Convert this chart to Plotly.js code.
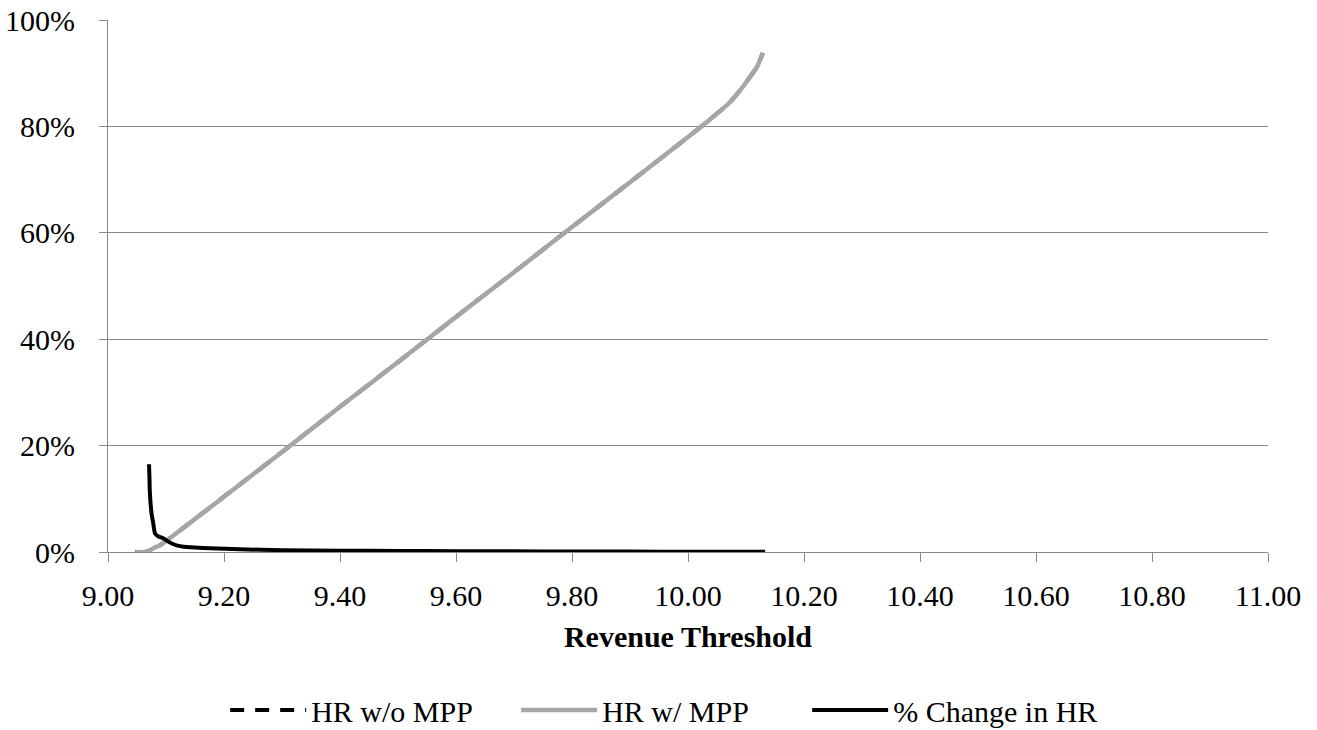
<!DOCTYPE html>
<html>
<head>
<meta charset="utf-8">
<script src="https://cdn.plot.ly/plotly-3.0.1.min.js"></script>
<style>html,body{margin:0;padding:0;background:#fff;}#chart{width:1317px;height:730px;}</style>
</head>
<body>
<div id="chart"></div>
<script>
// Revenue threshold values (x) and series values (fractions)
const hrX = [9.047, 9.064, 9.072, 9.080, 9.090, 9.20, 9.30, 9.40, 9.50, 9.60, 9.70, 9.80, 9.90, 10.00, 10.04, 10.07, 10.09, 10.105, 10.119, 10.129];
const hrWithoutMPP = [0, 0, 0.003, 0.008, 0.013, 0.104, 0.188, 0.273, 0.357, 0.442, 0.526, 0.611, 0.695, 0.780, 0.815, 0.843, 0.868, 0.890, 0.912, 0.938];
const hrWithMPP = [0, 0, 0.003, 0.008, 0.013, 0.104, 0.188, 0.273, 0.357, 0.442, 0.526, 0.611, 0.695, 0.780, 0.815, 0.843, 0.868, 0.890, 0.912, 0.938];
const chgX = [9.0707, 9.0715, 9.072, 9.075, 9.078, 9.081, 9.087, 9.095, 9.102, 9.110, 9.120, 9.130, 9.150, 9.176, 9.228, 9.30, 9.40, 9.50, 9.60, 9.70, 9.80, 9.90, 10.00, 10.10, 10.133];
const pctChangeHR = [0.165, 0.140, 0.117, 0.073, 0.054, 0.035, 0.029, 0.026, 0.021, 0.016, 0.012, 0.010, 0.0085, 0.007, 0.005, 0.0035, 0.0025, 0.002, 0.0015, 0.0012, 0.001, 0.0008, 0.0006, 0.0004, 0.0003];
const seriesNames = ['HR w/o MPP', 'HR w/ MPP', '% Change in HR'];
const xTitle = 'Revenue Threshold';

const FONT = 'Liberation Serif';
const FS = 30;

const traces = [
  {x: hrX, y: hrWithoutMPP, name: seriesNames[0], type: 'scatter', mode: 'lines',
   line: {color: '#000000', width: 4, dash: '14px,11px', shape: 'spline', smoothing: 0.6}},
  {x: hrX, y: hrWithMPP, name: seriesNames[1], type: 'scatter', mode: 'lines',
   line: {color: '#a6a6a6', width: 4.5, shape: 'spline', smoothing: 0.6}},
  {x: chgX, y: pctChangeHR, name: seriesNames[2], type: 'scatter', mode: 'lines',
   line: {color: '#000000', width: 4, shape: 'spline', smoothing: 0.4}}
];

const layout = {
  width: 1317, height: 730,
  margin: {l: 108, r: 49, t: 20, b: 178, autoexpand: false},
  paper_bgcolor: '#ffffff', plot_bgcolor: '#ffffff',
  font: {family: FONT, size: FS, color: '#000000'},
  showlegend: true,
  legend: {orientation: 'h', x: 0.101, xanchor: 'left', y: -0.297, yanchor: 'middle',
           font: {family: FONT, size: FS, color: '#000000'},
           itemwidth: 76, entrywidth: 200, entrywidthmode: 'pixels', traceorder: 'normal'},
  xaxis: {range: [9, 11], dtick: 0.2, tick0: 9, tickformat: '.2f',
          showgrid: false, zeroline: false, showline: true, linecolor: '#888888', linewidth: 1,
          ticks: 'outside', ticklen: 9, tickcolor: '#888888', tickwidth: 1,
          ticklabelstandoff: 8,
          tickfont: {family: FONT, size: FS, color: '#000000'},
          title: {text: '<b>' + xTitle + '</b>', standoff: 14,
                  font: {family: FONT, size: FS, color: '#000000'}}},
  yaxis: {range: [0, 1], dtick: 0.2, tick0: 0, tickformat: '.0%',
          showgrid: true, gridcolor: '#888888', gridwidth: 1,
          zeroline: false, showline: true, linecolor: '#888888', linewidth: 1,
          ticks: 'outside', ticklen: 8, tickcolor: '#888888', tickwidth: 1,
          ticklabelstandoff: 18,
          tickfont: {family: FONT, size: FS, color: '#000000'}}
};

Plotly.newPlot('chart', traces, layout, {displayModeBar: false, staticPlot: true});
</script>
</body>
</html>
